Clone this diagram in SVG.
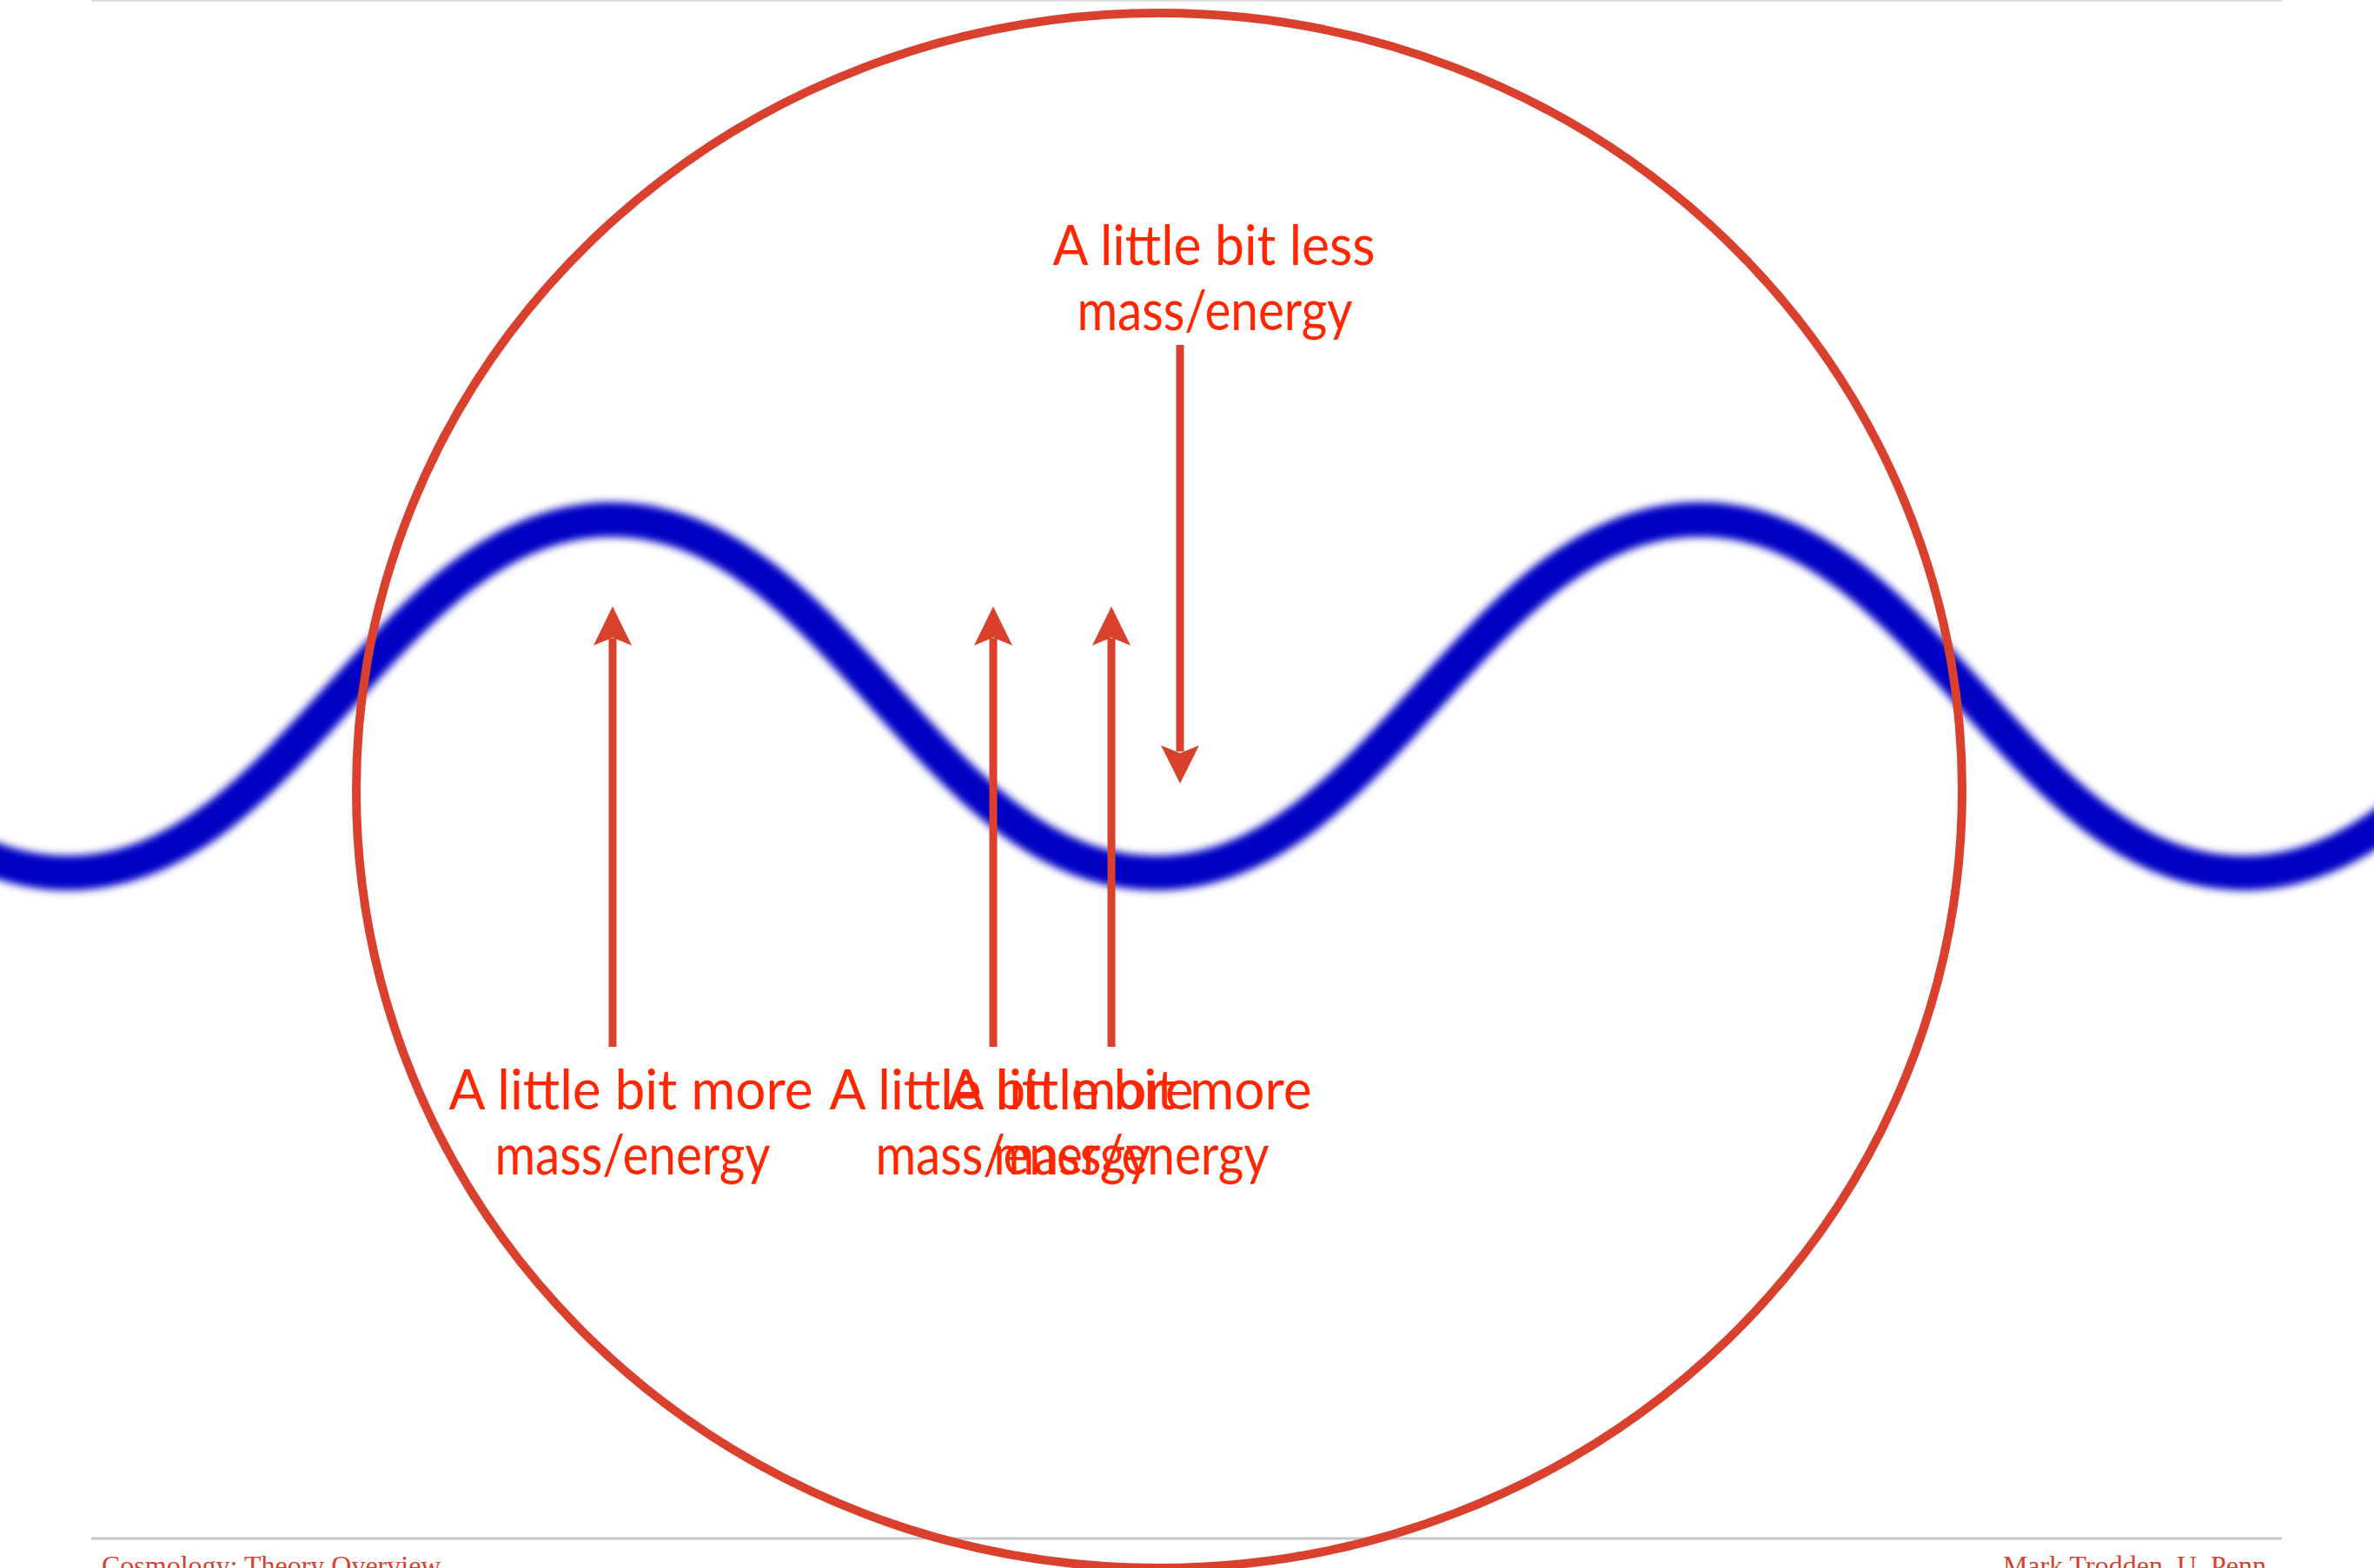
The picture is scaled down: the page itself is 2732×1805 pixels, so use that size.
<svg xmlns="http://www.w3.org/2000/svg" width="2732" height="1805" viewBox="0 0 2732 1805">
  <defs>
    <filter id="soft" x="-5%" y="-20%" width="110%" height="140%">
      <feGaussianBlur stdDeviation="5"/>
    </filter>
    <style>
      .label { font-family: Lato, "Liberation Sans", sans-serif; font-size: 64px; fill: #ff2600; text-anchor: middle; }
      .footer { font-family: "Liberation Serif", serif; font-size: 32px; fill: #d6402c; }
      .shaft { stroke: #d9412d; stroke-width: 9; fill: none; }
      .head { fill: #d9412d; }
    </style>
  </defs>
  <rect width="2732" height="1805" fill="#ffffff"/>

  <g id="frame">
    <line x1="105" y1="1" x2="2626" y2="1" stroke="#dedede" stroke-width="2"/>
    <line x1="105" y1="1771" x2="2626" y2="1771" stroke="#c8c8c8" stroke-width="3"/>
  </g>

  <g id="wave">
    <path d="M -548,598 C -290,598 -180,1005 78,1005 S 446,598 704,598 S 1072,1005 1330,1005 S 1698,598 1956,598 S 2324,1005 2582,1005 S 2950,598 3208,598" fill="none" stroke="#0000c4" stroke-width="40" filter="url(#soft)"/>
  </g>

  <g id="circle">
    <ellipse cx="1334" cy="910" rx="924" ry="895" fill="none" stroke="#d9402d" stroke-width="10"/>
  </g>

  <g id="connectors">
    <g id="arrow-more-1">
      <line class="shaft" x1="705" y1="1205" x2="705" y2="735"/>
      <polygon class="head" points="705,698 727,743 705,734 683,743"/>
    </g>
    <g id="arrow-more-2">
      <line class="shaft" x1="1143" y1="1205" x2="1143" y2="735"/>
      <polygon class="head" points="1143,698 1165,743 1143,734 1121,743"/>
    </g>
    <g id="arrow-more-3">
      <line class="shaft" x1="1279" y1="1205" x2="1279" y2="735"/>
      <polygon class="head" points="1279,698 1301,743 1279,734 1257,743"/>
    </g>
    <g id="arrow-less">
      <line class="shaft" x1="1358" y1="397" x2="1358" y2="865"/>
      <polygon class="head" points="1358,902 1336,858 1358,867 1380,858"/>
    </g>
  </g>

  <g id="label-less">
    <text class="label" x="1397" y="305" textLength="371" lengthAdjust="spacingAndGlyphs">A little bit less</text>
    <text class="label" x="1398" y="380" textLength="317" lengthAdjust="spacingAndGlyphs">mass/energy</text>
  </g>
  <g id="label-more-1">
    <text class="label" x="726" y="1277" textLength="419" lengthAdjust="spacingAndGlyphs">A little bit more</text>
    <text class="label" x="728" y="1352" textLength="317" lengthAdjust="spacingAndGlyphs">mass/energy</text>
  </g>
  <g id="label-more-2">
    <text class="label" x="1164" y="1277" textLength="419" lengthAdjust="spacingAndGlyphs">A little bit more</text>
    <text class="label" x="1166" y="1352" textLength="317" lengthAdjust="spacingAndGlyphs">mass/energy</text>
  </g>
  <g id="label-more-3">
    <text class="label" x="1300" y="1277" textLength="419" lengthAdjust="spacingAndGlyphs">A little bit more</text>
    <text class="label" x="1302" y="1352" textLength="317" lengthAdjust="spacingAndGlyphs">mass/energy</text>
  </g>

  <g id="footer">
    <text class="footer" x="117" y="1813">Cosmology: Theory Overview</text>
    <text class="footer" x="2608" y="1813" text-anchor="end">Mark Trodden, U. Penn</text>
  </g>
</svg>
